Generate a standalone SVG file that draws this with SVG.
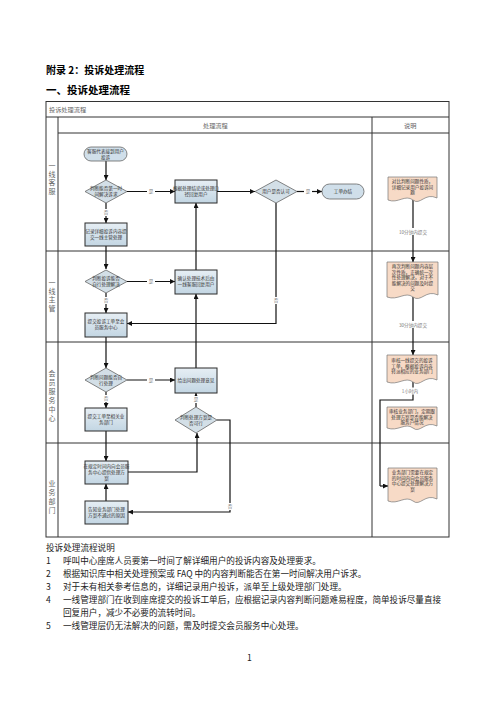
<svg xmlns="http://www.w3.org/2000/svg" width="496" height="702" viewBox="0 0 496 702">
<defs>
<linearGradient id="gb" x1="0" y1="0" x2="0" y2="1"><stop offset="0" stop-color="#e6eef4"/><stop offset="1" stop-color="#c3d6e3"/></linearGradient>
<marker id="ah" viewBox="0 0 6 6" markerWidth="5" markerHeight="5" refX="6" refY="3" orient="auto" markerUnits="userSpaceOnUse"><path d="M0,0 L6,3 L0,6 z" fill="#111"/></marker>
<style>
.box{fill:url(#gb);stroke:#2b2b2b;stroke-width:1}
.dia{fill:#d3dfe7;stroke:#666;stroke-width:0.8}
.ov{fill:#d0dfea;stroke:#666;stroke-width:0.8}
.doc{fill:#f7dac6;stroke:#777;stroke-width:0.7}
.ln{fill:none;stroke:#111;stroke-width:1.2}
.ar{marker-end:url(#ah)}
.tl{fill:none;stroke:#333;stroke-width:1}
.t{font-family:"Noto Sans CJK SC","Noto Sans",sans-serif;font-size:4.6px;fill:#333;text-anchor:middle}
.lb{font-family:"Noto Sans CJK SC",sans-serif;font-size:4.6px;fill:#777;text-anchor:middle}
.lane{font-family:"Noto Sans CJK SC",sans-serif;font-size:7px;fill:#666;text-anchor:middle}
.hd{font-family:"Noto Sans CJK SC",sans-serif;font-size:6.2px;fill:#666}
.body{font-family:"Noto Sans CJK SC",sans-serif;font-size:8.6px;fill:#222}
.ttl{font-family:"Noto Sans CJK SC",sans-serif;font-weight:bold;fill:#000}
</style>
</defs>
<rect width="496" height="702" fill="#fff"/>
<text class="ttl" x="46" y="74" font-size="10">附录 2：投诉处理流程</text>
<text class="ttl" x="46" y="94" font-size="10.5">一、投诉处理流程</text>

<g id="table">
<rect class="tl" x="46" y="101.5" width="403" height="435.5"/>
<line class="tl" x1="46" y1="117" x2="449" y2="117"/>
<line class="tl" x1="58" y1="117" x2="58" y2="537"/>
<line class="tl" x1="58" y1="133" x2="449" y2="133"/>
<line class="tl" x1="372" y1="117" x2="372" y2="537"/>
<line class="tl" x1="46" y1="251" x2="449" y2="251"/>
<line class="tl" x1="46" y1="342" x2="449" y2="342"/>
<line class="tl" x1="46" y1="443" x2="449" y2="443"/>
<text class="hd" x="49" y="112">投诉处理流程</text>
<text class="hd" x="203" y="127.5">处理流程</text>
<text class="hd" x="404" y="127.5">说明</text>
</g>

<g id="lanes">
<text class="lane" x="52" y="168">一</text><text class="lane" x="52" y="176.5">线</text><text class="lane" x="52" y="185">客</text><text class="lane" x="52" y="193.5">服</text>
<text class="lane" x="52" y="285">一</text><text class="lane" x="52" y="293.5">线</text><text class="lane" x="52" y="302">主</text><text class="lane" x="52" y="310.5">管</text>
<text class="lane" x="52" y="376">会</text><text class="lane" x="52" y="385">员</text><text class="lane" x="52" y="394">服</text><text class="lane" x="52" y="403">务</text><text class="lane" x="52" y="412">中</text><text class="lane" x="52" y="421">心</text>
<text class="lane" x="52" y="486">业</text><text class="lane" x="52" y="495">务</text><text class="lane" x="52" y="504">部</text><text class="lane" x="52" y="513">门</text>
</g>

<g id="connectors">
<path class="ln ar" d="M106,161 V180"/>
<path class="ln ar" d="M127,191.5 H175"/>
<path class="ln ar" d="M217,191.5 H255"/>
<path class="ln ar" d="M297,191.5 H322"/>
<path class="ln ar" d="M106,203 V223"/>
<path class="ln ar" d="M106,246 V269"/>
<path class="ln ar" d="M127,281.5 H175"/>
<path class="ln ar" d="M106,293 V313"/>
<path class="ln ar" d="M276,203 V323.5 H127"/>
<path class="ln ar" d="M196,270 V203"/>
<path class="ln ar" d="M106,337 V368"/>
<path class="ln ar" d="M127,380 H175"/>
<path class="ln ar" d="M196,368 V294"/>
<path class="ln ar" d="M106,392 V408"/>
<path class="ln ar" d="M106,431 V461"/>
<path class="ln ar" d="M196,407 V393"/>
<path class="ln ar" d="M217,420 H230 V512 H128"/>
<path class="ln ar" d="M128,472 H197 V433"/>
<path class="ln ar" d="M106,501 V484"/>
<path class="ln ar" d="M413,200 V262"/>
<path class="ln ar" d="M413,297 V355"/>
<path class="ln" d="M413,382 V400 H380 V486"/>
<path class="ln ar" d="M380,486 H388"/>
<g>
<rect x="147" y="188" width="8" height="7" fill="#fff"/><text class="lb" x="151" y="193.3">是</text>
<rect x="304" y="188" width="8" height="7" fill="#fff"/><text class="lb" x="308" y="193.3">是</text>
<rect x="102" y="209" width="8" height="7" fill="#fff"/><text class="lb" x="106" y="214.3">否</text>
<rect x="147" y="278" width="8" height="7" fill="#fff"/><text class="lb" x="151" y="283.3">是</text>
<rect x="102" y="297" width="8" height="7" fill="#fff"/><text class="lb" x="106" y="302.3">否</text>
<rect x="272" y="297" width="8" height="7" fill="#fff"/><text class="lb" x="276" y="302.3">否</text>
<rect x="147" y="376.5" width="8" height="7" fill="#fff"/><text class="lb" x="151" y="381.8">是</text>
<rect x="102" y="395" width="8" height="7" fill="#fff"/><text class="lb" x="106" y="400.3">否</text>
<rect x="192" y="396" width="8" height="7" fill="#fff"/><text class="lb" x="196" y="401.3">是</text>
<rect x="226" y="503" width="8" height="7" fill="#fff"/><text class="lb" x="230" y="508.3">否</text>
<rect x="398" y="228" width="30" height="7" fill="#fff"/><text class="lb" x="413" y="233.5">10分钟内提交</text>
<rect x="398" y="321" width="30" height="7" fill="#fff"/><text class="lb" x="413" y="326.5">30分钟内提交</text>
<rect x="400" y="387.5" width="20" height="7" fill="#fff"/><text class="lb" x="410" y="393">1小时内</text>
</g>
</g>

<g id="n1"><rect class="ov" x="84" y="147" width="43" height="14" rx="7"/><text class="t" x="105.5" y="153">客服代表接到用户</text><text class="t" x="105.5" y="158.5">投诉</text></g>
<g id="n2"><polygon class="dia" points="106,180 127,191.5 106,203 85,191.5"/><text class="t" x="106" y="190">判断能否第一时</text><text class="t" x="106" y="196">间解决诉求</text></g>
<g id="n3"><rect class="box" x="175" y="180" width="42" height="23"/><text class="t" x="196" y="190">根据处理结论或处理口</text><text class="t" x="196" y="196">径回复用户</text></g>
<g id="n4"><polygon class="dia" points="276,180 297,191.5 276,203 255,191.5"/><text class="t" x="276" y="193.2">用户是否认可</text></g>
<g id="n5"><rect class="ov" x="322" y="184" width="42" height="15" rx="7.5"/><text class="t" x="343" y="193.2">工单办结</text></g>
<g id="n6"><rect class="box" x="85" y="223" width="42" height="23"/><text class="t" x="106" y="233">记录详细投诉内容提</text><text class="t" x="106" y="239">交一线主管处理</text></g>
<g id="n7"><polygon class="dia" points="106,270 127,281.5 106,293 85,281.5"/><text class="t" x="106" y="280">判断投诉能否</text><text class="t" x="106" y="286">自行处理解决</text></g>
<g id="n8"><rect class="box" x="175" y="270" width="42" height="24"/><text class="t" x="196" y="280">确认处理技术后由</text><text class="t" x="196" y="286">一线客服回复用户</text></g>
<g id="n9"><rect class="box" x="85" y="313" width="42" height="24"/><text class="t" x="106" y="323">提交投诉工单至会</text><text class="t" x="106" y="329">员服务中心</text></g>
<g id="n10"><polygon class="dia" points="106,368 127,380 106,392 85,380"/><text class="t" x="106" y="378.5">判断问题能否自</text><text class="t" x="106" y="384.5">行处理</text></g>
<g id="n11"><rect class="box" x="175" y="368" width="42" height="25"/><text class="t" x="196" y="382">给出问题处理意见</text></g>
<g id="n12"><rect class="box" x="85" y="408" width="42" height="23"/><text class="t" x="106" y="418">提交工单至相关业</text><text class="t" x="106" y="424">务部门</text></g>
<g id="n13"><polygon class="dia" points="196,407 217,420 196,433 175,420"/><text class="t" x="196" y="418.5">判断处理方案是</text><text class="t" x="196" y="424.5">否可行</text></g>
<g id="n14"><rect class="box" x="85" y="461" width="43" height="23"/><text class="t" x="106.5" y="468">在规定时间内向会员服</text><text class="t" x="106.5" y="474">务中心提供处理方</text><text class="t" x="106.5" y="480">案</text></g>
<g id="n15"><rect class="box" x="85" y="501" width="43" height="23"/><text class="t" x="106.5" y="511">告知业务部门处理</text><text class="t" x="106.5" y="517">方案不通过的原因</text></g>

<g id="d1"><path class="doc" d="M388,177 H437 V198 C425,192 420,206 413,200 C405,194 398,204 388,200 Z"/><text class="t" x="412.5" y="183">对比判断问题性质，</text><text class="t" x="412.5" y="188.5">详细记录用户投诉问</text><text class="t" x="412.5" y="194">题</text></g>
<g id="d2"><path class="doc" d="M387,262 H438 V295 C426,289 421,303 413,297 C405,291 398,301 387,297 Z"/><text class="t" x="412.5" y="268">再次判断问题内容层</text><text class="t" x="412.5" y="273.5">次性质，正确统一次</text><text class="t" x="412.5" y="279">性处理解决，对于不</text><text class="t" x="412.5" y="284.5">能解决的问题及时提</text><text class="t" x="412.5" y="290">交</text></g>
<g id="d3"><path class="doc" d="M387,355 H437 V380 C425,374 420,388 413,382 C405,376 398,386 387,382 Z"/><text class="t" x="412" y="362">审核一线提交的投诉</text><text class="t" x="412" y="367.5">工单，根据投诉内容</text><text class="t" x="412" y="373">转派相应的业务部门</text></g>
<g id="d4"><path class="doc" d="M387,407 H437 V426 C425,420 420,434 413,428 C405,422 398,432 387,428 Z"/><text class="t" x="412" y="413">审核业务部门，定期跟</text><text class="t" x="412" y="418.5">处理方案是否能解决</text><text class="t" x="412" y="424">服务户情况</text></g>
<g id="d5"><path class="doc" d="M388,468 H437 V499 C425,493 420,507 413,501 C405,495 398,505 388,501 Z"/><text class="t" x="412.5" y="474">业务部门需要在规定</text><text class="t" x="412.5" y="479.5">的时间内向会员服务</text><text class="t" x="412.5" y="485">中心提交处理解决方</text><text class="t" x="412.5" y="490.5">案</text></g>

<g id="notes">
<text class="body" x="46" y="551">投诉处理流程说明</text>
<text class="body" x="46" y="564">1</text><text class="body" x="63" y="564">呼叫中心座席人员要第一时间了解详细用户的投诉内容及处理要求。</text>
<text class="body" x="46" y="577">2</text><text class="body" x="63" y="577">根据知识库中相关处理预案或 FAQ 中的内容判断能否在第一时间解决用户诉求。</text>
<text class="body" x="46" y="590">3</text><text class="body" x="63" y="590">对于未有相关参考信息的，详细记录用户投诉，派单至上级处理部门处理。</text>
<text class="body" x="46" y="603">4</text><text class="body" x="63" y="603">一线管理部门在收到座席提交的投诉工单后，应根据记录内容判断问题难易程度，简单投诉尽量直接</text>
<text class="body" x="63" y="616">回复用户，减少不必要的流转时间。</text>
<text class="body" x="46" y="629">5</text><text class="body" x="63" y="629">一线管理层仍无法解决的问题，需及时提交会员服务中心处理。</text>
<text class="body" x="247" y="661" font-size="6">1</text>
</g>
</svg>
